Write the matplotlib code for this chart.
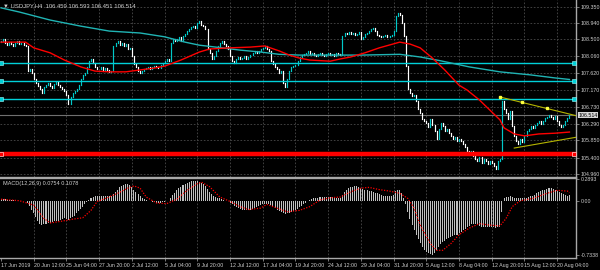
import matplotlib
matplotlib.use('Agg')
import matplotlib.pyplot as plt
import matplotlib.transforms as mtransforms
import numpy as np

# USDJPY H4 closes, one per bar, starting 17 Jun 2019 20:00
first_open = 108.43
closes = [
    108.46, 108.51, 108.40, 108.35, 108.43, 108.38, 108.32, 108.40, 108.46, 108.38, 108.40, 108.35, 108.32, 107.67, 107.72, 107.62,
    107.46, 107.35, 107.27, 107.19, 107.09, 107.25, 107.30, 107.35, 107.27, 107.22, 107.33, 107.38, 107.30, 107.25, 107.19, 107.14,
    107.04, 106.80, 106.98, 107.09, 107.14, 107.19, 107.30, 107.46, 107.56, 107.62, 107.77, 107.93, 107.98, 107.88, 107.77, 107.72,
    107.72, 107.77, 107.67, 107.75, 107.69, 107.64, 107.67, 108.32, 108.40, 108.46, 108.35, 108.40, 108.32, 108.38, 108.25, 108.27,
    108.06, 107.85, 107.77, 107.67, 107.62, 107.67, 107.72, 107.75, 107.77, 107.72, 107.77, 107.80, 107.77, 107.75, 107.83, 107.88,
    107.93, 107.98, 107.93, 108.40, 108.51, 108.46, 108.51, 108.56, 108.46, 108.59, 108.64, 108.72, 108.77, 108.82, 108.85, 108.80,
    108.93, 108.98, 108.88, 108.85, 108.77, 108.25, 108.14, 107.98, 108.06, 108.19, 108.32, 108.40, 108.46, 108.38, 108.32, 108.25,
    108.06, 107.93, 107.88, 107.98, 108.04, 107.98, 108.01, 108.06, 107.98, 108.04, 108.09, 108.14, 108.19, 108.14, 108.19, 108.25,
    108.27, 108.32, 108.25, 108.19, 107.93, 107.85, 107.77, 107.72, 107.62, 107.67, 107.35, 107.25, 107.46, 107.67, 107.77, 107.80,
    107.83, 107.93, 108.04, 108.09, 108.11, 108.14, 108.19, 108.11, 108.14, 108.09, 108.06, 108.11, 108.14, 108.09, 108.06, 108.11,
    108.14, 108.09, 108.11, 108.06, 108.14, 108.11, 108.09, 108.59, 108.67, 108.64, 108.69, 108.64, 108.67, 108.61, 108.64, 108.69,
    108.51, 108.56, 108.64, 108.67, 108.72, 108.77, 108.80, 108.72, 108.61, 108.59, 108.56, 108.59, 108.61, 108.56, 108.59, 108.61,
    108.72, 109.11, 109.19, 109.14, 108.93, 108.59, 107.80, 107.19, 107.09, 107.01, 107.04, 106.88, 106.67, 106.56, 106.41, 106.35,
    106.30, 106.20, 106.41, 106.25, 106.09, 105.88, 106.14, 106.30, 106.22, 106.09, 106.14, 106.04, 105.96, 105.88, 105.93, 105.83,
    105.88, 105.83, 105.75, 105.67, 105.56, 105.51, 105.56, 105.43, 105.35, 105.30, 105.41, 105.25, 105.35, 105.30, 105.22, 105.30,
    105.25, 105.17, 105.09, 105.30, 105.35, 106.88, 106.67, 106.56, 106.41, 106.62, 106.22, 105.96, 105.83, 105.75, 105.88, 105.80,
    105.96, 106.09, 106.14, 106.22, 106.17, 106.25, 106.30, 106.35, 106.27, 106.35, 106.43, 106.46, 106.51, 106.46, 106.41, 106.48,
    106.35, 106.25, 106.20, 106.25, 106.35, 106.43, 106.514,
]

macd_hist = [
    0.02, 0.02, 0.02, 0.01, 0.01, 0.01, 0.01, 0.01, 0.00, 0.00, 0.00, 0.00, 0.00, -0.03, -0.07, -0.12,
    -0.17, -0.22, -0.27, -0.31, -0.33, -0.32, -0.31, -0.30, -0.30, -0.29, -0.28, -0.27, -0.27, -0.26, -0.25, -0.24,
    -0.25, -0.26, -0.24, -0.22, -0.20, -0.17, -0.14, -0.11, -0.08, -0.05, -0.02, 0.01, 0.04, 0.05, 0.06, 0.06,
    0.06, 0.07, 0.06, 0.06, 0.06, 0.06, 0.06, 0.09, 0.12, 0.15, 0.18, 0.20, 0.21, 0.22, 0.22, 0.21,
    0.18, 0.15, 0.12, 0.09, 0.06, 0.04, 0.02, 0.01, 0.00, -0.01, -0.02, -0.02, -0.03, -0.03, -0.03, -0.02,
    -0.02, -0.01, 0.00, 0.04, 0.08, 0.11, 0.14, 0.17, 0.19, 0.21, 0.23, 0.24, 0.25, 0.26, 0.26, 0.26,
    0.26, 0.25, 0.24, 0.22, 0.20, 0.16, 0.12, 0.09, 0.07, 0.05, 0.04, 0.03, 0.02, 0.01, 0.00, -0.01,
    -0.03, -0.05, -0.07, -0.09, -0.10, -0.11, -0.12, -0.12, -0.13, -0.13, -0.12, -0.11, -0.10, -0.09, -0.07, -0.06,
    -0.05, -0.04, -0.04, -0.04, -0.06, -0.08, -0.10, -0.12, -0.14, -0.15, -0.17, -0.18, -0.17, -0.16, -0.15, -0.14,
    -0.13, -0.11, -0.09, -0.07, -0.05, -0.03, -0.01, 0.01, 0.02, 0.03, 0.04, 0.04, 0.05, 0.05, 0.05, 0.05,
    0.05, 0.05, 0.05, 0.05, 0.04, 0.04, 0.04, 0.08, 0.12, 0.15, 0.17, 0.18, 0.19, 0.20, 0.20, 0.19,
    0.17, 0.16, 0.15, 0.14, 0.13, 0.13, 0.12, 0.11, 0.10, 0.09, 0.08, 0.07, 0.07, 0.06, 0.06, 0.06,
    0.08, 0.13, 0.15, 0.14, 0.10, 0.04, -0.05, -0.15, -0.25, -0.33, -0.40, -0.46, -0.52, -0.57, -0.62, -0.66,
    -0.69, -0.71, -0.72, -0.73, -0.70, -0.66, -0.62, -0.58, -0.56, -0.54, -0.52, -0.50, -0.49, -0.48, -0.47, -0.46,
    -0.44, -0.42, -0.40, -0.38, -0.36, -0.34, -0.32, -0.31, -0.32, -0.33, -0.34, -0.35, -0.35, -0.36, -0.36, -0.36,
    -0.36, -0.36, -0.37, -0.36, -0.35, -0.15, 0.03, 0.05, 0.05, 0.06, 0.05, 0.04, 0.03, 0.03, 0.03, 0.03,
    0.03, 0.04, 0.05, 0.06, 0.07, 0.08, 0.10, 0.12, 0.13, 0.14, 0.15, 0.16, 0.17, 0.17, 0.16, 0.15,
    0.13, 0.12, 0.10, 0.09, 0.08, 0.07, 0.075,
]

sig_bars = [0, 9, 16, 21, 24, 29, 35, 40, 44, 47, 52, 57, 62, 65, 68, 71, 76, 81, 86, 91, 96, 98, 102, 107,
            112, 117, 121, 127, 130, 135, 140, 146, 151, 156, 161, 166, 171, 176, 180, 185, 190, 195, 199,
            202, 205, 210, 213, 216, 220, 224, 229, 234, 239, 244, 247, 250, 254, 260, 267, 272, 277, 278]
sig_vals = [0.02, 0.0, -0.06, -0.24, -0.30, -0.28, -0.25, -0.23, -0.13, -0.01, 0.04, 0.10, 0.17, 0.20, 0.17,
            0.05, -0.03, -0.04, 0.02, 0.14, 0.23, 0.25, 0.19, 0.05, -0.01, -0.08, -0.12, -0.10, -0.05, -0.10,
            -0.15, -0.13, -0.08, 0.01, 0.04, 0.05, 0.12, 0.17, 0.18, 0.15, 0.13, 0.10, 0.03, -0.10, -0.33,
            -0.58, -0.67, -0.67, -0.58, -0.46, -0.37, -0.31, -0.33, -0.34, -0.24, -0.08, 0.0, 0.03, 0.10,
            0.14, 0.13, 0.108]

red_ma_bars = [0, 12, 16, 24, 31, 39, 46, 53, 61, 68, 75, 80, 88, 97, 102, 112, 122, 129, 136, 141, 146, 151,
               161, 166, 171, 178, 185, 195, 200, 205, 211, 217, 224, 228, 234, 239, 244, 246, 251, 256, 263,
               271, 278]
red_ma_vals = [108.43, 108.43, 108.28, 108.15, 107.96, 107.78, 107.67, 107.65, 107.65, 107.70, 107.75, 107.80,
               107.96, 108.17, 108.25, 108.28, 108.30, 108.33, 108.20, 108.09, 108.01, 107.96, 107.93, 107.99,
               108.04, 108.15, 108.28, 108.43, 108.38, 108.28, 108.01, 107.70, 107.30, 107.17, 106.91, 106.65,
               106.39, 106.18, 106.02, 105.97, 106.02, 106.04, 106.07]

cyan_ma_bars = [0, 9, 24, 39, 53, 68, 80, 90, 97, 105, 117, 127, 136, 146, 161, 176, 195, 205, 215, 229, 244,
                259, 271, 278]
cyan_ma_vals = [109.33, 109.22, 109.01, 108.85, 108.72, 108.67, 108.57, 108.43, 108.35, 108.30, 108.22, 108.17,
                108.11, 108.09, 108.09, 108.09, 108.11, 108.04, 107.94, 107.78, 107.65, 107.57, 107.49, 107.45]

cyan_levels = [107.88, 107.41, 106.94]
red_level = 105.49
last_price = 106.514

tri_up_bars = [244, 282]
tri_up_vals = [106.99, 106.49]
tri_pt_bars = [244, 255, 267]
tri_pt_vals = [106.99, 106.85, 106.69]
tri_lo_bars = [251, 282]
tri_lo_vals = [105.65, 105.94]

price_ticks = [109.350, 108.940, 108.500, 108.060, 107.620, 107.170, 106.730, 106.290, 105.850, 105.400, 104.960]
date_labels = ['17 Jun 2019', '20 Jun 12:00', '25 Jun 04:00', '27 Jun 20:00', '2 Jul 12:00', '5 Jul 04:00',
               '9 Jul 20:00', '12 Jul 12:00', '17 Jul 04:00', '19 Jul 20:00', '24 Jul 12:00', '29 Jul 04:00',
               '31 Jul 20:00', '5 Aug 12:00', '8 Aug 04:00', '12 Aug 20:00', '15 Aug 12:00', '20 Aug 04:00']

plt.rcParams['font.family'] = ['Liberation Sans', 'DejaVu Sans']
fs = 3.8
txt = '#d0d0d0'
grid_c = '#4a4a4a'
border = '#a8a8a8'
bull = '#00c8c8'
bear = '#ffffff'
cyan_line = '#00d0d8'
cyan_ma = '#20b4b4'

fig = plt.figure(figsize=(6, 2.7), dpi=100, facecolor='black')
ax = fig.add_axes([0, 1 - 177 / 270, 576 / 600, 177 / 270], facecolor='black')
ax2 = fig.add_axes([0, 1 - 258 / 270, 576 / 600, 80 / 270], facecolor='black')

x = np.arange(len(closes))
c = np.array(closes)
o = np.array([first_open] + closes[:-1])
cols = [bull if cc >= oo else bear for cc, oo in zip(c, o)]
xlim = (-0.5, 281.2)
grid_bars = np.arange(16, len(closes), 16)

# main price window
for a in (ax, ax2):
    a.set_xlim(*xlim)
    for b in grid_bars:
        a.axvline(b, color=grid_c, lw=0.6, ls=(0, (2, 2)), zorder=0)
for p in price_ticks:
    ax.axhline(p, color=grid_c, lw=0.6, ls=(0, (2, 2)), zorder=0)

vl = ax.vlines(x, np.minimum(o, c), np.maximum(o, c), colors=cols, lw=0.85, zorder=3)
vl.set_capstyle('projecting')

ax.axhline(last_price, color='#707070', lw=0.8, zorder=2)
for lv in cyan_levels:
    ax.axhline(lv, color=cyan_line, lw=1.0, zorder=4)
    ax.plot([0, 280.2], [lv, lv], ls='none', marker='s', ms=2.2, color=cyan_line, mec='#a0ffff', mew=0.4, zorder=6)
ax.axhline(red_level, color='#ff0000', lw=3.2, zorder=4)
ax.plot([0, 280.2], [red_level, red_level], ls='none', marker='s', ms=2.8, color='#ff0000', mec='#ffd0d0', mew=0.5, zorder=6)

ax.plot(cyan_ma_bars, cyan_ma_vals, color=cyan_ma, lw=1.0, zorder=5)
ax.plot(red_ma_bars, red_ma_vals, color='#ff0000', lw=1.0, zorder=5)

ax.plot(tri_up_bars, tri_up_vals, color='#b4b400', lw=0.8, zorder=5)
ax.plot(tri_lo_bars, tri_lo_vals, color='#b4b400', lw=0.8, zorder=5)
ax.plot(tri_pt_bars, tri_pt_vals, ls='none', marker='s', ms=1.9, color='#ffff40', zorder=6)

ax.set_ylim(104.89, 109.536)
ax.yaxis.tick_right()
ax.set_yticks(price_ticks)
ax.set_yticklabels(['%.3f' % p for p in price_ticks])
ax.tick_params(axis='y', colors=txt, labelsize=fs, length=2, pad=1.5, width=0.5)
ax.tick_params(axis='x', bottom=False, labelbottom=False)
ax.tick_params(axis='y', color=border)
tr = mtransforms.blended_transform_factory(ax.transAxes, ax.transData)
ax.text(1.004, last_price, '%.3f' % last_price, transform=tr, va='center', ha='left', fontsize=fs,
        color='black', bbox=dict(facecolor='#d8d8d8', edgecolor='none', pad=0.5), zorder=10, clip_on=False)

for s in ('top', 'left'):
    ax.spines[s].set_visible(False)
for s in ('bottom', 'right'):
    ax.spines[s].set_color(border)
    ax.spines[s].set_linewidth(1.0)

# MACD window
ax2.bar(x, macd_hist, width=0.5, color='#c0c0c0', linewidth=0, zorder=2)
ax2.plot(sig_bars, sig_vals, color='#ff0000', lw=0.9, ls=(0, (1, 1.2)), zorder=3)
ax2.set_ylim(-0.774, 0.3067)
ax2.yaxis.tick_right()
ax2.set_yticks([0.2893, 0.0, -0.7338])
ax2.set_yticklabels(['0.2893', '0.00', '-0.7338'])
ax2.tick_params(axis='y', colors=txt, labelsize=fs, length=2, pad=1.5, width=0.5)
ax2.tick_params(axis='y', color=border)
ax2.set_xticks(np.arange(0, len(closes), 16))
ax2.set_xticklabels(date_labels, ha='left')
ax2.tick_params(axis='x', colors=txt, labelsize=fs, length=2, pad=1.5, width=0.5)
ax2.tick_params(axis='x', color=border)
ax2.spines['left'].set_visible(False)
for s in ('top', 'bottom', 'right'):
    ax2.spines[s].set_color(border)
    ax2.spines[s].set_linewidth(1.0)

fig.text(0.005, 1 - 5.5 / 270, '\u25bc USDJPY,H4  106.459 106.593 106.451 106.514', color=txt,
         fontsize=4.2, va='center', ha='left')
fig.text(0.005, 1 - 183 / 270, 'MACD(12,26,9) 0.0754 0.1078', color=txt, fontsize=4.0, va='center', ha='left')

fig.savefig('out.png', dpi=100, facecolor='black')
